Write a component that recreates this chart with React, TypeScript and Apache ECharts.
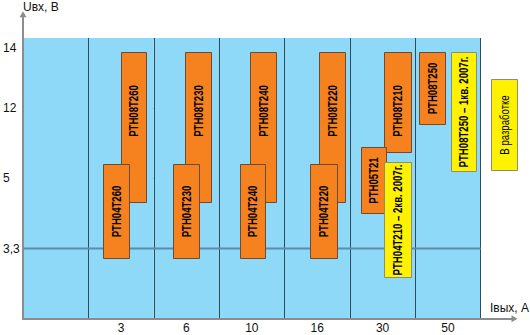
import React, { useEffect, useRef } from "react";
import * as echarts from "echarts";

// ---- data ----
const xCategories = ["", "3", "6", "10", "16", "30", "50"];
const yTickLabels = ["", "3,3", "5", "12", "14"];
const xAxisName = "Iвых, А";
const yAxisName = "Uвх, В";

// bars (x in column units of the current axis, y in voltage-level units of the voltage axis)
const barNames = [
  "PTH08T260",
  "PTH08T230",
  "PTH08T240",
  "PTH08T220",
  "PTH08T210",
  "PTH08T250",
  "PTH08T250 – 1кв. 2007г.",
  "В разработке",
  "PTH04T260",
  "PTH04T230",
  "PTH04T240",
  "PTH04T220",
  "PTH05T21",
  "PTH04T210 – 2кв. 2007г.",
];
const barXStart = [1.494, 2.477, 3.476, 4.527, 5.525, 6.061, 6.55, 7.157, 1.228, 2.299, 3.314, 4.394, 5.174, 5.525];
const barXEnd = [1.886, 2.87, 3.869, 4.92, 5.929, 6.454, 6.932, 7.55, 1.616, 2.696, 3.701, 4.797, 5.547, 5.929];
const barYLow = [1.66, 1.66, 1.66, 1.66, 2.37, 2.78, 2.11, 2.12, 0.87, 0.87, 0.87, 0.87, 1.5, 0.59];
const barYHigh = [3.8, 3.8, 3.8, 3.8, 3.8, 3.8, 3.8, 3.42, 2.2, 2.2, 2.2, 2.2, 2.44, 2.24];
const barStatus = [
  "ready", "ready", "ready", "ready", "ready", "ready", "planned", "dev",
  "ready", "ready", "ready", "ready", "ready", "planned",
];
const refLevels = [1];

// ---- styles ----
const FONT = "'Liberation Sans Narrow','Arial Narrow','Liberation Sans',sans-serif";
const BAR_FONT = "'Liberation Sans',Arial,sans-serif";
const statusStyle: Record<string, any> = {
  ready: { fill: "#F5821F", stroke: "#6e4a33", weight: "bold" },
  planned: { fill: "#FFF200", stroke: "#8d8d72", weight: "bold" },
  dev: { fill: "#FFF200", stroke: "#8d8d72", weight: "normal" },
};
// label centre (in level units) for the bars whose label is not centred
const labelLevelFor: Record<number, number> = { 0: 2.96, 1: 2.96, 2: 2.96, 3: 2.96, 4: 2.96 };

export default function App() {
  const ref = useRef<HTMLDivElement>(null);
  useEffect(() => {
    document.body.style.margin = "0";
    if (!ref.current) return;
    const chart = echarts.init(ref.current, undefined, { renderer: "svg" });
    const barData = barNames.map((_, i) => [barXStart[i], barYLow[i], barXEnd[i], barYHigh[i], i]);
    const option: any = {
      animation: false,
      grid: [
        { left: 23, top: 38, right: 49.3, bottom: 16.3, outerBoundsMode: "none", containLabel: false },
        { left: 23, top: 14.2, right: 15.5, bottom: 16.3, outerBoundsMode: "none", containLabel: false },
      ],
      xAxis: [
        {
          gridIndex: 0, type: "value", min: 0, max: 7, interval: 1,
          axisLine: { show: false }, axisTick: { show: false }, axisLabel: { show: false },
          splitLine: { show: true, lineStyle: { color: "#2f4b5c", width: 1 } },
          splitArea: { show: true, areaStyle: { color: ["#8ED8F8"] } },
        },
        {
          gridIndex: 0, type: "category", data: xCategories, boundaryGap: true, position: "bottom",
          axisLine: { show: false }, axisTick: { show: false }, splitLine: { show: false },
          axisLabel: { color: "#111", fontSize: 12, fontFamily: FONT, margin: 3, lineHeight: 12 },
        },
        {
          gridIndex: 1, type: "value", min: 0, max: 1, z: 5,
          axisLine: { show: true, symbol: ["none", "triangle"], symbolSize: [7, 6], lineStyle: { color: "#8c8c8c", width: 2 } },
          axisTick: { show: false }, axisLabel: { show: false }, splitLine: { show: false },
          name: xAxisName, nameLocation: "end", nameGap: -5,
          nameTextStyle: { color: "#111", fontSize: 12, fontFamily: FONT, align: "center", verticalAlign: "bottom", padding: [0, 0, 5, 0] },
        },
      ],
      yAxis: [
        {
          gridIndex: 0, type: "value", min: 0, max: 4, interval: 1,
          axisLine: { show: false }, axisTick: { show: false },
          splitLine: { show: true, lineStyle: { color: "#2f4b5c", width: 1 } },
          axisLabel: {
            color: "#111", fontSize: 12, fontFamily: FONT, align: "left", margin: 20,
            formatter: (v: number) => {
              const t = yTickLabels[Math.round(v)] ?? "";
              return Math.round(v) === 4 ? `{top|${t}}` : t;
            },
            rich: { top: { fontSize: 12, fontFamily: FONT, color: "#111", padding: [20, 0, 0, 0] } },
          },
        },
        {
          gridIndex: 1, type: "value", min: 0, max: 1, z: 5,
          axisLine: { show: true, symbol: ["none", "triangle"], symbolSize: [7, 6], lineStyle: { color: "#8c8c8c", width: 2 } },
          axisTick: { show: false }, axisLabel: { show: false }, splitLine: { show: false },
          name: yAxisName, nameLocation: "end", nameGap: 7,
          nameTextStyle: { color: "#111", fontSize: 12, fontFamily: FONT, align: "left", verticalAlign: "middle" },
        },
      ],
      series: [
        {
          type: "custom", xAxisIndex: 0, yAxisIndex: 0, silent: true, z: 1,
          data: refLevels.map((l) => [0, l, 7, l]),
          renderItem: (params: any, api: any) => {
            const a = api.coord([api.value(0), api.value(1)]);
            const b = api.coord([api.value(2), api.value(3)]);
            return {
              type: "line",
              shape: { x1: a[0], y1: a[1], x2: b[0], y2: b[1] },
              style: { stroke: "#5c8cab", lineWidth: 2 },
            };
          },
        },
        {
          type: "custom", xAxisIndex: 0, yAxisIndex: 0, silent: true, z: 2, clip: false,
          data: barData,
          encode: { x: [0, 2], y: [1, 3] },
          renderItem: (params: any, api: any) => {
            const i = api.value(4);
            const tl = api.coord([api.value(0), api.value(3)]);
            const br = api.coord([api.value(2), api.value(1)]);
            const x0 = Math.round(tl[0]) + 0.5;
            const y0 = Math.round(tl[1]) + 0.5;
            const x1 = Math.round(br[0]) + 0.5;
            const y1 = Math.round(br[1]) + 0.5;
            const st = statusStyle[barStatus[i]];
            const ly = labelLevelFor[i] !== undefined ? api.coord([0, labelLevelFor[i]])[1] : (y0 + y1) / 2;
            return {
              type: "group",
              children: [
                {
                  type: "rect",
                  shape: { x: x0, y: y0, width: x1 - x0, height: y1 - y0 },
                  style: { fill: st.fill, stroke: st.stroke, lineWidth: 1 },
                },
                {
                  type: "text",
                  x: (x0 + x1) / 2,
                  y: ly,
                  rotation: Math.PI / 2,
                  scaleX: 0.8,
                  style: {
                    text: barNames[i],
                    fill: "#000",
                    fontSize: 12,
                    fontWeight: st.weight,
                    fontFamily: BAR_FONT,
                    align: "center",
                    verticalAlign: "middle",
                  },
                },
              ],
            };
          },
        },
      ],
    };
    chart.setOption(option);
    return () => chart.dispose();
  }, []);
  return <div ref={ref} style={{ width: 530, height: 335, position: "absolute", left: 0, top: 0 }} />;
}
